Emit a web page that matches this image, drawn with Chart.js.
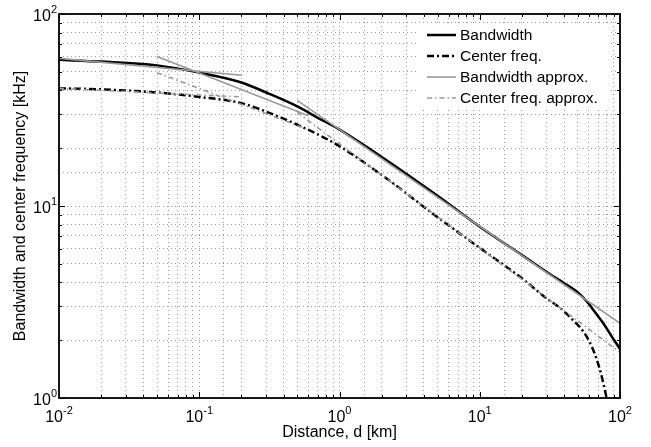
<!DOCTYPE html>
<html>
<head>
<meta charset="utf-8">
<script src="https://cdn.jsdelivr.net/npm/chart.js@4/dist/chart.umd.min.js"></script>
<style>
  html, body { margin: 0; padding: 0; background: #fff; }
  #wrap { width: 651px; height: 447px; position: relative; }
</style>
</head>
<body>
<div id="wrap"><canvas id="chart"></canvas></div>
<script>
(function () {
  "use strict";

  /* ---- data (distance in km, values in kHz) ---- */
  var bwDist = [0.01, 0.02, 0.05, 0.1, 0.2, 0.3, 0.5, 0.7, 1, 2, 5, 10, 20, 30, 40, 45, 50, 55, 60, 65, 70, 76, 82, 87, 93, 100];
  var bwVal  = [57.7, 56.5, 54, 49.5, 44, 39, 33, 28.8, 25, 18, 11.3, 7.8, 5.55, 4.53, 3.96, 3.75, 3.55, 3.32, 3.09, 2.86, 2.66, 2.45, 2.25, 2.1, 1.95, 1.8];

  var cfDist = [0.01, 0.02, 0.05, 0.1, 0.2, 0.3, 0.5, 0.7, 1, 2, 5, 10, 20, 30, 38, 46, 52, 58, 63, 68, 73, 78, 82];
  var cfVal  = [41, 40.5, 39, 37, 34.3, 31, 26.5, 23.6, 20.5, 14.5, 8.75, 6.05, 4.2, 3.3, 2.92, 2.55, 2.33, 2.08, 1.85, 1.6, 1.35, 1.1, 0.93];

  // approximations: straight power-law pieces, [distance, value] end points
  var bwApproxNear = [[0.01, 58.7], [0.2, 48]];
  var bwApproxMid  = [[0.05, 60], [0.6, 29.5]];
  var bwApproxFar  = [[0.5, 35.5], [100, 2.45]];
  var cfApproxNear = [[0.01, 41], [0.2, 37]];
  var cfApproxMid  = [[0.05, 49.5], [0.6, 25]];
  var cfApproxFar  = [[0.5, 30.7], [100, 1.73]];

  var xDecades = [-2, -1, 0, 1, 2];
  var yDecades = [0, 1, 2];
  var xTitle = "Distance, d [km]";
  var yTitle = "Bandwidth and center frequency [kHz]";
  var legendLabels = ["Bandwidth", "Center freq.", "Bandwidth approx.", "Center freq. approx."];

  /* ---- styles ---- */
  var FONT = "'Liberation Sans', Arial, Helvetica, sans-serif";
  var GREY = "#9a9a9a";
  var STYLE = {
    bw:  { color: "#000", width: 2.5, dash: [] },
    cf:  { color: "#000", width: 2.5, dash: [7, 3, 2, 3] },
    bwA: { color: GREY, width: 1.6, dash: [] },
    cfA: { color: GREY, width: 1.6, dash: [5, 3, 1.5, 3] }
  };

  function pts(xs, ys) { return xs.map(function (x, i) { return { x: x, y: ys[i] }; }); }
  function seg(p) { return p.map(function (q) { return { x: q[0], y: q[1] }; }); }

  function ds(data, st, order, smooth) {
    return {
      data: data,
      borderColor: st.color,
      borderWidth: st.width,
      borderDash: st.dash,
      pointRadius: 0,
      fill: false,
      order: order,
      cubicInterpolationMode: smooth ? "monotone" : "default",
      tension: 0
    };
  }

  var datasets = [
    ds(pts(bwDist, bwVal), STYLE.bw, 2, true),
    ds(pts(cfDist, cfVal), STYLE.cf, 2, true),
    ds(seg(bwApproxNear), STYLE.bwA, 1),
    ds(seg(bwApproxMid), STYLE.bwA, 1),
    ds(seg(bwApproxFar), STYLE.bwA, 1),
    ds(seg(cfApproxNear), STYLE.cfA, 1),
    ds(seg(cfApproxMid), STYLE.cfA, 1),
    ds(seg(cfApproxFar), STYLE.cfA, 1)
  ];

  /* ---- MATLAB-like frame, inward ticks, 10^n labels, titles, legend ---- */
  function pow10(ctx, e, x, y, align) {
    var base = "10", ex = String(e);
    ctx.font = "16px " + FONT;
    var wb = ctx.measureText(base).width;
    ctx.font = "11px " + FONT;
    var we = ctx.measureText(ex).width;
    var left = align === "center" ? x - (wb + we) / 2 : x - wb - we;
    ctx.font = "16px " + FONT;
    ctx.fillText(base, left, y);
    ctx.font = "11px " + FONT;
    ctx.fillText(ex, left + wb, y - 8);
  }

  var axesDecor = {
    id: "axesDecor",
    afterDraw: function (chart) {
      var ctx = chart.ctx, a = chart.chartArea, xs = chart.scales.x, ys = chart.scales.y;
      ctx.save();

      // legend
      ctx.fillStyle = "#fff";
      ctx.fillRect(419, 24, 190, 84);
      var styles = [STYLE.bw, STYLE.cf, STYLE.bwA, STYLE.cfA];
      legendLabels.forEach(function (lab, i) {
        var yy = 35 + i * 21;
        var st = styles[i];
        ctx.strokeStyle = st.color;
        ctx.lineWidth = st.width;
        ctx.setLineDash(st.dash);
        ctx.beginPath();
        ctx.moveTo(427, yy);
        ctx.lineTo(456, yy);
        ctx.stroke();
        ctx.setLineDash([]);
        ctx.fillStyle = "#000";
        ctx.font = "15.5px " + FONT;
        ctx.textBaseline = "middle";
        ctx.textAlign = "left";
        ctx.fillText(lab, 460, yy + 1);
      });

      // ticks (inside the box, on all four sides)
      ctx.strokeStyle = "#000";
      ctx.lineWidth = 1;
      ctx.beginPath();
      xDecades.forEach(function (d) {
        for (var m = 1; m <= 9; m++) {
          var v = m * Math.pow(10, d);
          if (v > xs.max * 1.0001) break;
          var px = Math.round(xs.getPixelForValue(v)) + 0.5;
          var len = m === 1 ? 6 : 3;
          ctx.moveTo(px, a.bottom); ctx.lineTo(px, a.bottom - len);
          ctx.moveTo(px, a.top); ctx.lineTo(px, a.top + len);
        }
      });
      yDecades.forEach(function (d) {
        for (var m = 1; m <= 9; m++) {
          var v = m * Math.pow(10, d);
          if (v > ys.max * 1.0001) break;
          var py = Math.round(ys.getPixelForValue(v)) + 0.5;
          var len = m === 1 ? 6 : 3;
          ctx.moveTo(a.left, py); ctx.lineTo(a.left + len, py);
          ctx.moveTo(a.right, py); ctx.lineTo(a.right - len, py);
        }
      });
      ctx.stroke();

      // frame
      ctx.lineWidth = 1.8;
      ctx.strokeRect(a.left, a.top, a.right - a.left, a.bottom - a.top);

      // tick labels
      ctx.fillStyle = "#000";
      ctx.textBaseline = "alphabetic";
      ctx.textAlign = "left";
      xDecades.forEach(function (d) {
        pow10(ctx, d, xs.getPixelForValue(Math.pow(10, d)), a.bottom + 24, "center");
      });
      yDecades.forEach(function (d) {
        pow10(ctx, d, a.left - 2, ys.getPixelForValue(Math.pow(10, d)) + 7, "right");
      });

      // axis titles
      ctx.font = "16px " + FONT;
      ctx.textAlign = "center";
      ctx.fillText(xTitle, (a.left + a.right) / 2, 437);
      ctx.translate(25, (a.top + a.bottom) / 2);
      ctx.rotate(-Math.PI / 2);
      ctx.fillText(yTitle, 0, 0);

      ctx.restore();
    }
  };

  function logAxis(min, max) {
    return {
      type: "logarithmic",
      min: min,
      max: max,
      ticks: { display: false },
      title: { display: false },
      grid: { color: GREY, lineWidth: 1, drawTicks: false },
      border: { display: false, dash: [1, 3] }
    };
  }

  new Chart(document.getElementById("chart").getContext("2d"), {
    type: "line",
    data: { datasets: datasets },
    options: {
      responsive: true,
      maintainAspectRatio: false,
      animation: false,
      parsing: true,
      layout: { padding: { left: 59, right: 31, top: 14, bottom: 49 } },
      plugins: { legend: { display: false }, tooltip: { enabled: false } },
      scales: { x: logAxis(0.01, 100), y: logAxis(1, 100) }
    },
    plugins: [axesDecor]
  });
})();
</script>
</body>
</html>
